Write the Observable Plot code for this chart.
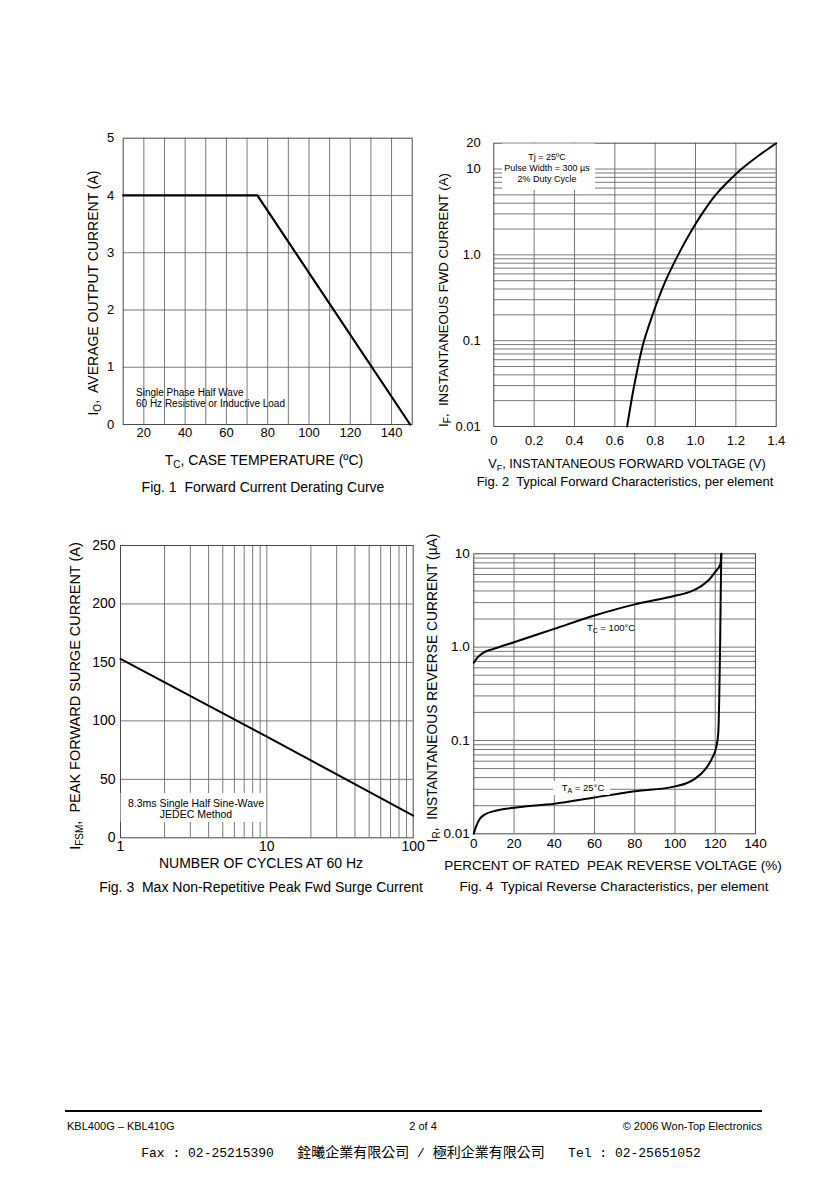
<!DOCTYPE html>
<html>
<head>
<meta charset="utf-8">
<script src="https://cdn.jsdelivr.net/npm/d3@7"></script>
<script src="https://cdn.jsdelivr.net/npm/@observablehq/plot@0.6"></script>
<style>
  html, body { margin: 0; padding: 0; background: #fff; }
  #page { position: relative; width: 840px; height: 1189px; background: #fff; overflow: hidden;
          font-family: "Liberation Sans", Arial, sans-serif; color: #000; }
  .panel { position: absolute; }
  .panel svg { overflow: visible; display: block; }
  .cap { position: absolute; white-space: pre; transform: translate(-50%, -50%); font-size: 13px; }
  .foot { position: absolute; white-space: nowrap; font-size: 11px; transform: translateY(-50%); }
  .rule { position: absolute; left: 65px; width: 697px; top: 1110px; height: 2px; background: #000; }
  .fax { position: absolute; top: 1151px; left: 421px; transform: translate(-50%, -50%); white-space: pre; }
  .fax .m { font-family: "Liberation Mono", monospace; font-size: 13px; }
  .fax .c { font-family: "Noto Sans CJK TC", sans-serif; font-size: 14px; }
</style>
</head>
<body>
<div id="page"></div>
<script>
// ---------------- Fig. 1 : Forward Current Derating Curve ----------------
const fig1CaseTemp      = [10, 75, 149];
const fig1OutputCurrent = [4, 4, 0];
const fig1XTicks = [20, 40, 60, 80, 100, 120, 140];
const fig1XGrid  = [20, 30, 40, 50, 60, 70, 80, 90, 100, 110, 120, 130, 140];
const fig1YTicks = [0, 1, 2, 3, 4, 5];
const fig1YGrid  = [1, 2, 3, 4];

// ---------------- Fig. 2 : Typical Forward Characteristics ----------------
const fig2Voltage = [0.661, 0.696, 0.745, 0.787, 0.814, 0.852, 0.914, 0.985, 1.032, 1.100, 1.158, 1.228, 1.307, 1.4];
const fig2Current = [0.01, 0.03, 0.1, 0.2, 0.3, 0.5, 1.0, 2, 3, 5, 7, 10, 14, 20];
const fig2XTicks = [0, 0.2, 0.4, 0.6, 0.8, 1.0, 1.2, 1.4];
const fig2XTickLabels = ["0", "0.2", "0.4", "0.6", "0.8", "1.0", "1.2", "1.4"];
const fig2XGrid = [0.2, 0.4, 0.6, 0.8, 1.0, 1.2];
const fig2YTicks = [0.01, 0.1, 1, 10, 20];
const fig2YTickLabels = ["0.01", "0.1", "1.0", "10", "20"];
const fig2YGrid = [0.02, 0.03, 0.04, 0.05, 0.06, 0.07, 0.08, 0.09,
                   0.1, 0.2, 0.3, 0.4, 0.5, 0.6, 0.7, 0.8, 0.9,
                   1, 2, 3, 4, 5, 6, 7, 8, 9, 10];

// ---------------- Fig. 3 : Max Non-Repetitive Peak Fwd Surge Current ----------------
const fig3Cycles       = [1, 10, 100];
const fig3SurgeCurrent = [153, 86.5, 19];
const fig3XTicks = [1, 10, 100];
const fig3XGrid  = [2, 3, 4, 5, 6, 7, 8, 9, 10, 20, 30, 40, 50, 60, 70, 80, 90];
const fig3YTicks = [0, 50, 100, 150, 200, 250];
const fig3YGrid  = [50, 100, 150, 200];

// ---------------- Fig. 4 : Typical Reverse Characteristics ----------------
const fig4TcVoltage = [0, 2, 5, 10, 20, 40, 60, 80, 100, 108, 113, 117, 120, 122.6, 123];
const fig4TcCurrent = [0.68, 0.78, 0.88, 0.96, 1.13, 1.57, 2.18, 2.87, 3.55, 3.95, 4.5, 5.3, 6.4, 7.8, 10];
const fig4TaVoltage = [0, 1, 3, 6, 10, 20, 40, 60, 80, 100, 106, 110, 115, 118.5, 120.5, 121.5, 122, 122.4, 122.7, 123];
const fig4TaCurrent = [0.01, 0.0118, 0.0145, 0.0163, 0.0175, 0.019, 0.021, 0.0245, 0.0285, 0.0322, 0.035, 0.039, 0.049, 0.065, 0.085, 0.12, 0.3, 1.0, 3.5, 10];
const fig4XTicks = [0, 20, 40, 60, 80, 100, 120, 140];
const fig4XGrid  = [20, 40, 60, 80, 100, 120];
const fig4YTicks = [0.01, 0.1, 1, 10];
const fig4YTickLabels = ["0.01", "0.1", "1.0", "10"];
const fig4YGrid = [0.02, 0.03, 0.04, 0.05, 0.06, 0.07, 0.08, 0.09,
                   0.1, 0.2, 0.3, 0.4, 0.5, 0.6, 0.7, 0.8, 0.9,
                   1, 2, 3, 4, 5, 6, 7, 8, 9];

// ---------------- helpers ----------------
const FONT = '"Liberation Sans", Arial, sans-serif';
const GRID = "#6a6a6a";
const FRAME = "#4a4a4a";
const page = document.getElementById("page");

function pts(xs, ys) { return xs.map((x, i) => ({x, y: ys[i]})); }
function lookup(ticks, labels) { return d => labels[ticks.indexOf(d)]; }

function addText(sel, o, left, top) {
  const x = o.x - left, y = o.y - top;
  const size = o.size || 14;
  const t = sel.append("text")
    .attr("x", x).attr("y", y)
    .attr("text-anchor", o.anchor || "middle")
    .attr("dominant-baseline", "central")
    .attr("font-size", size)
    .attr("font-family", FONT)
    .attr("fill", "#000")
    .style("white-space", "pre");
  if (o.rotate) t.attr("transform", `rotate(-90, ${x}, ${y})`);
  const subSize = Math.round(size * 0.72);
  const shift = Math.round(size * 0.3);
  let prevSub = false;
  for (const [s, sub] of o.parts) {
    const ts = t.append("tspan").text(s);
    if (sub) ts.attr("font-size", subSize).attr("dy", shift);
    else if (prevSub) ts.attr("dy", -shift);
    prevSub = !!sub;
  }
  return t;
}

function panel(cfg) {
  const {left, top, width, height} = cfg;
  const [fx0, fx1, fy0, fy1] = cfg.frame;
  const div = document.createElement("div");
  div.className = "panel";
  div.style.left = left + "px";
  div.style.top = top + "px";
  page.appendChild(div);
  const svg = Plot.plot({
    width, height,
    marginLeft: fx0 - left, marginRight: left + width - fx1,
    marginTop: fy0 - top, marginBottom: top + height - fy1,
    style: {fontFamily: FONT, fontSize: cfg.tickSize + "px", background: "transparent", color: "#000", overflow: "visible"},
    x: cfg.x, y: cfg.y,
    marks: cfg.marks
  });
  div.appendChild(svg);
  const sel = d3.select(svg);
  for (const r of (cfg.boxes || [])) {
    sel.append("rect").attr("x", r[0] - left).attr("y", r[1] - top)
      .attr("width", r[2] - r[0]).attr("height", r[3] - r[1]).attr("fill", "#fff");
  }
  for (const lab of (cfg.labels || [])) addText(sel, lab, left, top);
  if (cfg.caption) {
    const c = document.createElement("div");
    c.className = "cap";
    c.style.left = cfg.caption.x + "px";
    c.style.top = cfg.caption.y + "px";
    c.style.fontSize = cfg.caption.size + "px";
    c.textContent = cfg.caption.text;
    page.appendChild(c);
  }
  return sel;
}

function gridRules(xs, ys) {
  return [
    Plot.ruleX(xs, {stroke: GRID, strokeWidth: 0.9}),
    Plot.ruleY(ys, {stroke: GRID, strokeWidth: 0.9})
  ];
}

// ---------------- Fig. 1 ----------------
panel({
  left: 50, top: 120, width: 380, height: 380,
  frame: [122.7, 411.7, 137.7, 424],
  tickSize: 13,
  x: {type: "linear", domain: [10, 150]},
  y: {type: "linear", domain: [0, 5]},
  marks: [
    ...gridRules(fig1XGrid, fig1YGrid),
    Plot.frame({stroke: FRAME, strokeWidth: 1}),
    Plot.line(pts(fig1CaseTemp, fig1OutputCurrent), {x: "x", y: "y", stroke: "#000", strokeWidth: 2.2}),
    Plot.axisX(fig1XTicks, {tickSize: 0, tickPadding: 3, label: null, fontSize: 13, tickFormat: d => String(d)}),
    Plot.axisY(fig1YTicks, {tickSize: 0, tickPadding: 9, label: null, fontSize: 13, tickFormat: d => String(d)})
  ],
  labels: [
    {x: 136, y: 392, anchor: "start", size: 10, parts: [["Single Phase Half Wave"]]},
    {x: 136, y: 402.5, anchor: "start", size: 10, parts: [["60 Hz Resistive or Inductive Load"]]},
    {x: 264, y: 460, size: 14, parts: [["T"], ["C", true], [", CASE TEMPERATURE (ºC)"]]},
    {x: 93, y: 293, size: 14, rotate: true, parts: [["I"], ["O", true], [",  AVERAGE OUTPUT CURRENT (A)"]]}
  ],
  caption: {x: 263, y: 487, size: 14, text: "Fig. 1  Forward Current Derating Curve"}
});

// ---------------- Fig. 2 ----------------
panel({
  left: 430, top: 120, width: 370, height: 380,
  frame: [493.3, 775.7, 142.7, 426],
  tickSize: 13,
  x: {type: "linear", domain: [0, 1.4]},
  y: {type: "log", domain: [0.01, 20]},
  marks: [
    ...gridRules(fig2XGrid, fig2YGrid),
    Plot.frame({stroke: FRAME, strokeWidth: 1}),
    Plot.line(pts(fig2Voltage, fig2Current), {x: "x", y: "y", stroke: "#000", strokeWidth: 2, curve: "monotone-y"}),
    Plot.axisX(fig2XTicks, {tickSize: 0, tickPadding: 9, label: null, fontSize: 13, tickFormat: lookup(fig2XTicks, fig2XTickLabels)}),
    Plot.axisY(fig2YTicks, {tickSize: 0, tickPadding: 13, label: null, fontSize: 13, tickFormat: lookup(fig2YTicks, fig2YTickLabels)})
  ],
  boxes: [[502, 143.5, 595, 190]],
  labels: [
    {x: 547, y: 157, size: 9, parts: [["Tj = 25ºC"]]},
    {x: 547, y: 168, size: 9, parts: [["Pulse Width = 300 µs"]]},
    {x: 547, y: 178.5, size: 9, parts: [["2% Duty Cycle"]]},
    {x: 627, y: 464, size: 12.7, parts: [["V"], ["F", true], [", INSTANTANEOUS FORWARD VOLTAGE (V)"]]},
    {x: 443, y: 300, size: 13.2, rotate: true, parts: [["I"], ["F", true], [",  INSTANTANEOUS FWD CURRENT (A)"]]}
  ],
  caption: {x: 625, y: 481, size: 13, text: "Fig. 2  Typical Forward Characteristics, per element"}
});

// ---------------- Fig. 3 ----------------
panel({
  left: 50, top: 520, width: 380, height: 380,
  frame: [120, 412.7, 545, 837.3],
  tickSize: 14,
  x: {type: "log", domain: [1, 100]},
  y: {type: "linear", domain: [0, 250]},
  marks: [
    ...gridRules(fig3XGrid, fig3YGrid),
    Plot.frame({stroke: FRAME, strokeWidth: 1}),
    Plot.line(pts(fig3Cycles, fig3SurgeCurrent), {x: "x", y: "y", stroke: "#000", strokeWidth: 2}),
    Plot.axisX(fig3XTicks, {tickSize: 0, tickPadding: 3, label: null, fontSize: 14, tickFormat: d => String(d)}),
    Plot.axisY(fig3YTicks, {tickSize: 0, tickPadding: 5, label: null, fontSize: 14, tickFormat: d => String(d)})
  ],
  boxes: [[120.6, 793, 263, 822]],
  labels: [
    {x: 196, y: 803, size: 10.5, parts: [["8.3ms Single Half Sine-Wave"]]},
    {x: 196, y: 813.5, size: 10.5, parts: [["JEDEC Method"]]},
    {x: 261, y: 863, size: 14, parts: [["NUMBER OF CYCLES AT 60 Hz"]]},
    {x: 75, y: 696, size: 14.5, rotate: true, parts: [["I"], ["FSM", true], [",  PEAK FORWARD SURGE CURRENT (A)"]]}
  ],
  caption: {x: 261, y: 887, size: 14, text: "Fig. 3  Max Non-Repetitive Peak Fwd Surge Current"}
});

// ---------------- Fig. 4 ----------------
panel({
  left: 420, top: 520, width: 380, height: 380,
  frame: [473.3, 755, 553.3, 833.3],
  tickSize: 13.5,
  x: {type: "linear", domain: [0, 140]},
  y: {type: "log", domain: [0.01, 10]},
  marks: [
    ...gridRules(fig4XGrid, fig4YGrid),
    Plot.frame({stroke: FRAME, strokeWidth: 1}),
    Plot.line(pts(fig4TcVoltage, fig4TcCurrent), {x: "x", y: "y", stroke: "#000", strokeWidth: 2, curve: "monotone-x"}),
    Plot.line(pts(fig4TaVoltage, fig4TaCurrent), {x: "x", y: "y", stroke: "#000", strokeWidth: 2, curve: "monotone-x"}),
    Plot.axisX(fig4XTicks, {tickSize: 0, tickPadding: 5, label: null, fontSize: 13.5, tickFormat: d => String(d)}),
    Plot.axisY(fig4YTicks, {tickSize: 0, tickPadding: 4, label: null, fontSize: 13.5, tickFormat: lookup(fig4YTicks, fig4YTickLabels)})
  ],
  boxes: [[553, 781, 610, 795]],
  labels: [
    {x: 611, y: 627, size: 9.5, parts: [["T"], ["C", true], [" = 100°C"]]},
    {x: 583, y: 787, size: 9.5, parts: [["T"], ["A", true], [" = 25°C"]]},
    {x: 613, y: 865, size: 13.5, parts: [["PERCENT OF RATED  PEAK REVERSE VOLTAGE (%)"]]},
    {x: 432, y: 688, size: 13.8, rotate: true, parts: [["I"], ["R", true], [",  INSTANTANEOUS REVERSE CURRENT (µA)"]]}
  ],
  caption: {x: 614, y: 886, size: 13.5, text: "Fig. 4  Typical Reverse Characteristics, per element"}
});

// ---------------- footer ----------------
page.insertAdjacentHTML("beforeend", `
  <div class="rule"></div>
  <div class="foot" style="left:67px; top:1126px;">KBL400G – KBL410G</div>
  <div class="foot" style="left:423px; top:1126px; transform:translate(-50%,-50%);">2 of 4</div>
  <div class="foot" style="right:78px; top:1126px;">© 2006 Won-Top Electronics</div>
  <div class="fax"><span class="m">Fax : 02-25215390   </span><span class="c">銓曦企業有限公司</span><span class="m"> / </span><span class="c">極利企業有限公司</span><span class="m">   Tel : 02-25651052</span></div>
`);
</script>
</body>
</html>
